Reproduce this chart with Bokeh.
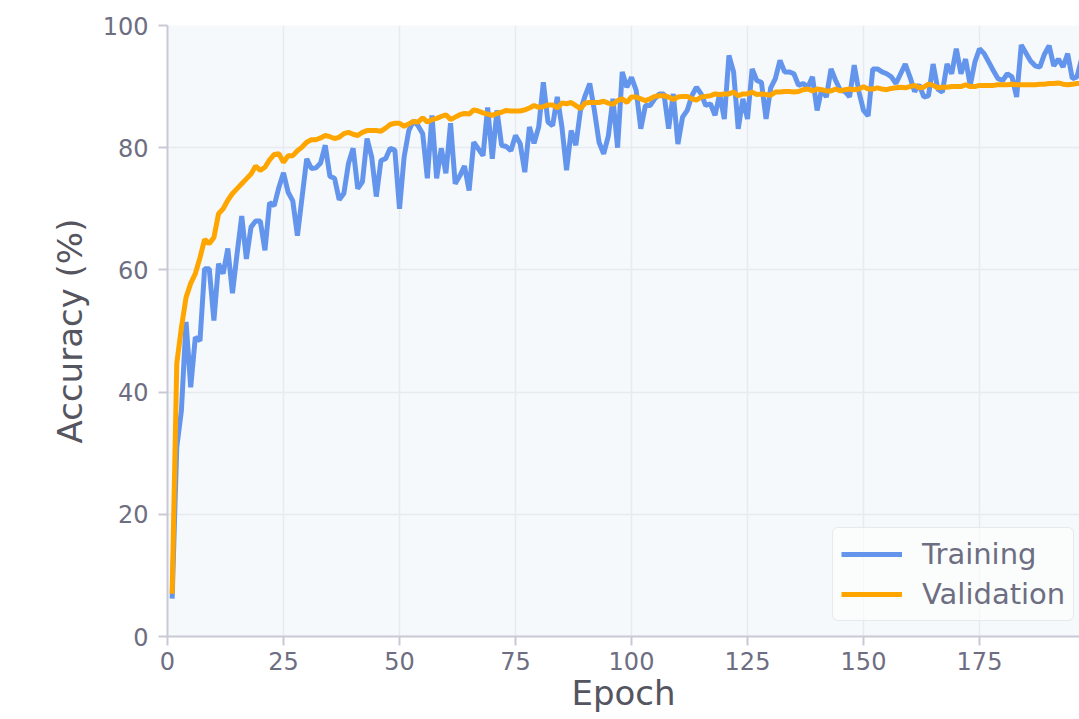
from bokeh.plotting import figure
from bokeh.models import Range1d, FixedTicker, Legend, LegendItem, ColumnDataSource
from bokeh.embed import file_html
from bokeh.resources import INLINE

epochs = list(range(1, 201))

training = [
    6.2, 31, 37, 51.5, 40.8, 49, 48.4, 60.2, 60.2, 51.7,
    61, 59.4, 63.5, 56.2, 62.7, 68.8, 61.8, 67, 68, 68,
    63.2, 71, 70.5, 73.5, 75.9, 72.7, 71.3, 65.6, 71.9, 78.2,
    76.6, 76.7, 77.5, 80.4, 75.3, 75, 71.5, 72.5, 77.4, 79.9,
    73.3, 74.4, 81.5, 78.5, 72, 77.9, 78.2, 79.9, 79.6, 70,
    78.5, 82.8, 84.4, 83.6, 82.3, 75, 85.3, 75, 79.9, 75.8,
    84, 74.1, 75.4, 77, 73, 80.9, 79.8, 78.7, 86.6, 78.2,
    86.1, 80.4, 80.2, 79.5, 82, 80.7, 76, 83.4, 80.7, 83.4,
    90.7, 84.2, 83.6, 88.3, 83.4, 76.3, 82.8, 80.4, 86.1, 88.5,
    90.5, 86.1, 80.9, 79, 81.9, 88, 80, 92.4, 89.9, 91.5,
    89.4, 83.1, 86.9, 86.9, 88, 88.8, 88.8, 83.1, 88.8, 80.6,
    85, 86.1, 88.5, 89.9, 88.8, 86.9, 87.2, 85.3, 88.8, 84.7,
    95.1, 92.4, 83.1, 88, 84.7, 92.9, 91, 90.7, 84.7, 89.8,
    91.3, 94.3, 92.4, 92.4, 92.1, 90.2, 90.5, 89.9, 91.6, 86.1,
    89.6, 88.3, 92.9, 91, 89.4, 89.2, 88.3, 93.5, 89.2, 86.1,
    85.2, 92.9, 92.9, 92.4, 92.1, 91.6, 90.5, 92.1, 93.7, 91.6,
    89.2, 90.3, 88.3, 88.5, 93.7, 89.6, 89.1, 93.7, 92.1, 96.2,
    92.1, 94.5, 90.2, 94, 96.2, 95.4, 94, 92.6, 91.3, 91,
    92.1, 91.6, 88.3, 96.8, 95.5, 94.2, 93.4, 93.2, 95.3, 96.7,
    93.4, 94.5, 93.2, 95.4, 91.3, 91.6, 94.5, 95.5, 93, 94,
]

validation = [
    7, 44.7, 50.6, 55.5, 57.8, 59.4, 62, 65, 64.3, 65.3,
    69.2, 70, 71.4, 72.5, 73.3, 74.1, 74.9, 75.7, 77, 76.3,
    76.8, 78, 78.9, 79, 77.6, 78.7, 78.7, 79.5, 80.1, 80.9,
    81.3, 81.3, 81.6, 82, 81.8, 81.5, 81.7, 82.3, 82.5, 82.2,
    82, 82.5, 82.8, 82.8, 82.8, 82.7, 83.2, 83.8, 84, 84,
    83.5, 83.9, 84.3, 84.2, 84.9, 84.2, 84.6, 84.8, 85.1, 85.4,
    84.6, 85, 85.4, 85.6, 85.5, 86.2, 86, 85.7, 85.5, 85.3,
    85.6, 85.8, 86.1, 86, 86, 86, 86.2, 86.5, 86.9, 86.6,
    86.7, 87, 87, 86.5, 87.3, 87.2, 87.4, 86.9, 86.4, 87.3,
    87.4, 87.4, 87.4, 87.6, 87.3, 87.1, 87.7, 88, 87.4, 88.3,
    88.3, 88, 87.7, 88, 88.4, 88.5, 88.5, 88.3, 87.9, 88.3,
    88.4, 88.4, 88, 87.8, 88.3, 88.4, 88.5, 88.8, 88.7, 88.8,
    88.8, 89.1, 88.5, 88.8, 88.8, 89.1, 88.7, 88.8, 88.7, 88.6,
    89.1, 89.1, 89.2, 89.2, 89.1, 89.2, 89.5, 89.6, 89.3, 89.6,
    89.5, 89.3, 89.3, 89.6, 89.3, 89.5, 89.6, 89.5, 89.6, 90,
    89.6, 89.6, 89.8, 89.6, 89.5, 89.7, 89.8, 89.9, 89.8, 90,
    90.2, 89.8, 89.9, 90.4, 90.2, 89.8, 89.9, 89.9, 90, 90,
    90, 90.3, 90, 90, 90.2, 90.2, 90.2, 90.2, 90.3, 90.3,
    90.3, 90.4, 90.3, 90.3, 90.3, 90.3, 90.3, 90.4, 90.4, 90.5,
    90.5, 90.6, 90.4, 90.3, 90.4, 90.5, 90.5, 90.6, 90.5, 90.6,
]

x_ticks = [0, 25, 50, 75, 100, 125, 150, 175, 200]
y_ticks = [0, 20, 40, 60, 80, 100]
series_names = ["Training", "Validation"]
series_colors = ["#6495ED", "#FFA500"]

FONT = "DejaVu Sans"
TICK_COLOR = "#6e6e82"
AXIS_COLOR = "#c9c9d6"

p = figure(
    width=1079, height=719,
    x_range=Range1d(0, 196.55), y_range=Range1d(0, 100),
    output_backend="svg", toolbar_location=None,
    min_border_left=167, min_border_top=25, min_border_right=0, min_border_bottom=83,
    background_fill_color="#f6f9fb", border_fill_color="white",
)
p.outline_line_color = None

src = ColumnDataSource(dict(epoch=epochs, train=training, val=validation))
r_train = p.line("epoch", "train", source=src, line_color=series_colors[0], line_width=5)
r_val = p.line("epoch", "val", source=src, line_color=series_colors[1], line_width=5)

p.xaxis.ticker = FixedTicker(ticks=x_ticks)
p.yaxis.ticker = FixedTicker(ticks=y_ticks)
p.xaxis.axis_label = "Epoch"
p.yaxis.axis_label = "Accuracy (%)"

for ax in (p.xaxis, p.yaxis):
    ax.axis_line_color = AXIS_COLOR
    ax.axis_line_width = 2
    ax.major_tick_line_color = AXIS_COLOR
    ax.major_tick_line_width = 2
    ax.major_tick_out = 9
    ax.major_tick_in = 0
    ax.minor_tick_line_color = None
    ax.major_label_text_font = FONT
    ax.major_label_text_font_size = "24px"
    ax.major_label_text_color = TICK_COLOR
    ax.axis_label_text_font = FONT
    ax.axis_label_text_font_size = "34px"
    ax.axis_label_text_font_style = "normal"
    ax.axis_label_text_color = "#55555f"

p.xaxis.major_label_standoff = 6
p.xaxis.axis_label_standoff = 0
p.yaxis.major_label_standoff = 10
p.yaxis.axis_label_standoff = 10

p.xgrid.grid_line_color = "#e7ebf0"
p.ygrid.grid_line_color = "#e7ebf0"
p.xgrid.grid_line_width = 1.5
p.ygrid.grid_line_width = 1.5

legend = Legend(
    items=[LegendItem(label=series_names[0], renderers=[r_train]),
           LegendItem(label=series_names[1], renderers=[r_val])],
    location=(665, 15),
)
legend.label_text_font = FONT
legend.label_text_font_size = "29px"
legend.label_text_color = TICK_COLOR
legend.glyph_width = 61
legend.glyph_height = 36
legend.label_height = 36
legend.spacing = 4
legend.padding = 8
legend.margin = 0
legend.label_standoff = 20
legend.border_line_color = "#d3d6de"
legend.border_line_width = 1.5
legend.border_radius = 6
legend.background_fill_color = "white"
legend.background_fill_alpha = 0.6
p.add_layout(legend)

open("out.html", "w").write(file_html(p, INLINE))
